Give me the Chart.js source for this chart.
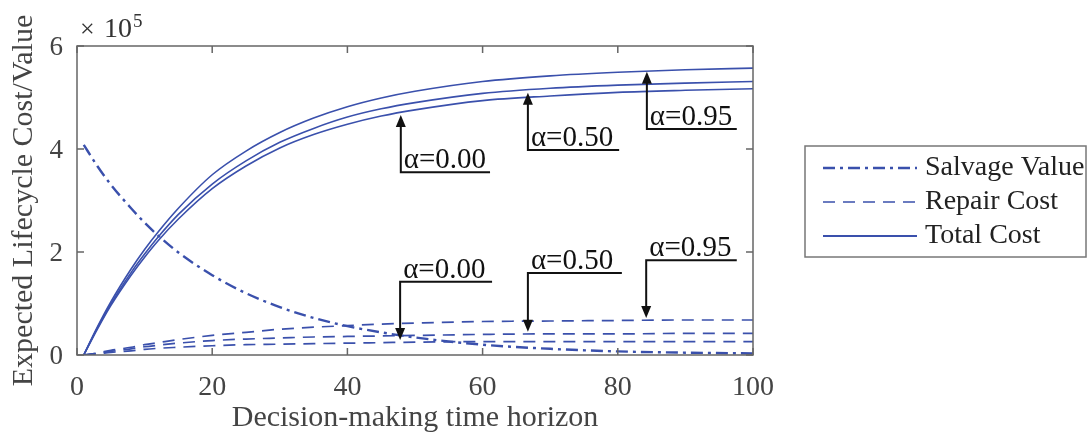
<!DOCTYPE html>
<html>
<head>
<meta charset="utf-8">
<script src="https://cdn.jsdelivr.net/npm/chart.js@4/dist/chart.umd.min.js"></script>
<style>
  html, body { margin: 0; padding: 0; background: #fff; }
  #wrap { width: 1088px; height: 440px; }
</style>
</head>
<body>
<div id="wrap"><canvas id="myChart" width="1088" height="440"></canvas></div>
<script>
// values in units of 10^5
const horizon = [1, 3, 5, 8, 10, 12, 15, 20, 25, 30, 35, 40, 45, 50, 60, 70, 80, 90, 100];
const salvageValue = [4.08, 3.67, 3.31, 2.85, 2.57, 2.32, 1.99, 1.55, 1.20, 0.93, 0.72, 0.56, 0.44, 0.34, 0.20, 0.12, 0.07, 0.045, 0.03];
const repair095 = [0, 0.04, 0.09, 0.15, 0.20, 0.24, 0.30, 0.38, 0.44, 0.50, 0.54, 0.57, 0.60, 0.62, 0.65, 0.66, 0.67, 0.68, 0.68];
const repair050 = [0, 0.03, 0.07, 0.12, 0.16, 0.19, 0.23, 0.28, 0.31, 0.33, 0.35, 0.36, 0.37, 0.38, 0.40, 0.41, 0.41, 0.42, 0.42];
const repair000 = [0, 0.02, 0.05, 0.08, 0.11, 0.13, 0.15, 0.18, 0.20, 0.21, 0.22, 0.23, 0.24, 0.25, 0.26, 0.26, 0.26, 0.26, 0.26];
const total095 = [0, 0.54, 1.03, 1.67, 2.05, 2.39, 2.85, 3.50, 3.96, 4.32, 4.60, 4.82, 4.99, 5.12, 5.31, 5.42, 5.49, 5.54, 5.57];
const total050 = [0, 0.52, 0.99, 1.60, 1.96, 2.29, 2.73, 3.32, 3.77, 4.13, 4.40, 4.62, 4.78, 4.90, 5.08, 5.18, 5.24, 5.28, 5.31];
const total000 = [0, 0.50, 0.96, 1.55, 1.90, 2.22, 2.64, 3.23, 3.67, 4.02, 4.28, 4.48, 4.64, 4.76, 4.94, 5.03, 5.10, 5.14, 5.17];

const xTicks = [0, 20, 40, 60, 80, 100];
const yTicks = [0, 2, 4, 6];
const legendLabels = ["Salvage Value", "Repair Cost", "Total Cost"];

// callouts: label, x of stem, arrow tip y, label line y, line end x (data units)
const calloutLabels = ["α=0.00", "α=0.50", "α=0.95", "α=0.00", "α=0.50", "α=0.95"];
const calloutX = [47.9, 66.7, 84.3, 47.8, 66.7, 84.2];
const calloutTip = [4.66, 5.09, 5.50, 0.29, 0.45, 0.72];
const calloutBase = [3.55, 3.98, 4.39, 1.42, 1.59, 1.84];
const calloutEnd = [61.1, 80.2, 97.6, 61.4, 80.6, 97.6];

const blue = "#3a50ac";
const serif = "'Liberation Serif', 'Times New Roman', serif";

function pts(arr) {
  return horizon.map((x, i) => ({ x: x, y: arr[i] }));
}

function line(label, arr, dash, width) {
  return {
    label: label,
    data: pts(arr),
    borderColor: blue,
    backgroundColor: blue,
    borderWidth: width,
    borderDash: dash,
    pointRadius: 0,
    cubicInterpolationMode: "monotone",
    fill: false,
  };
}

const salvageDash = [12, 5, 3, 5];
const repairDash = [12, 8];

const extras = {
  id: "extras",
  afterDraw(chart) {
    const ctx = chart.ctx;
    const a = chart.chartArea;
    const xs = chart.scales.x;
    const ys = chart.scales.y;
    ctx.save();

    // frame + inward ticks
    ctx.strokeStyle = "#666";
    ctx.lineWidth = 1.5;
    ctx.strokeRect(a.left, a.top, a.right - a.left, a.bottom - a.top);
    ctx.beginPath();
    xTicks.forEach((t) => {
      const px = xs.getPixelForValue(t);
      ctx.moveTo(px, a.bottom); ctx.lineTo(px, a.bottom - 7);
      ctx.moveTo(px, a.top); ctx.lineTo(px, a.top + 7);
    });
    yTicks.forEach((t) => {
      const py = ys.getPixelForValue(t);
      ctx.moveTo(a.left, py); ctx.lineTo(a.left + 7, py);
      ctx.moveTo(a.right, py); ctx.lineTo(a.right - 7, py);
    });
    ctx.stroke();

    // x 10^5 multiplier
    ctx.fillStyle = "#333";
    ctx.textBaseline = "alphabetic";
    ctx.textAlign = "left";
    ctx.font = "26px " + serif;
    ctx.fillText("×", a.left + 3, 37);
    ctx.font = "28px " + serif;
    ctx.fillText("10", a.left + 27, 37);
    ctx.font = "19px " + serif;
    ctx.fillText("5", a.left + 56, 27);

    // callouts
    ctx.strokeStyle = "#111";
    ctx.fillStyle = "#111";
    ctx.lineWidth = 2;
    calloutLabels.forEach((lab, i) => {
      const px = xs.getPixelForValue(calloutX[i]);
      const tip = ys.getPixelForValue(calloutTip[i]);
      const base = ys.getPixelForValue(calloutBase[i]);
      const end = xs.getPixelForValue(calloutEnd[i]);
      const dir = tip < base ? -1 : 1;
      ctx.beginPath();
      ctx.moveTo(end, base);
      ctx.lineTo(px, base);
      ctx.lineTo(px, tip - dir * 10);
      ctx.stroke();
      ctx.beginPath();
      ctx.moveTo(px, tip);
      ctx.lineTo(px - 5, tip - dir * 12);
      ctx.lineTo(px + 5, tip - dir * 12);
      ctx.closePath();
      ctx.fill();
      ctx.font = "29px " + serif;
      ctx.textAlign = "left";
      ctx.textBaseline = "alphabetic";
      ctx.fillText(lab, px + 3, base - 4);
    });

    // legend
    const lx = 805, ly = 146, lw = 281, lh = 111;
    ctx.fillStyle = "#fff";
    ctx.fillRect(lx, ly, lw, lh);
    ctx.strokeStyle = "#777";
    ctx.lineWidth = 1.5;
    ctx.strokeRect(lx, ly, lw, lh);
    const dashes = [salvageDash, repairDash, []];
    const widths = [2.4, 1.6, 1.8];
    legendLabels.forEach((lab, i) => {
      const yy = 168 + i * 34;
      ctx.strokeStyle = blue;
      ctx.lineWidth = widths[i];
      ctx.setLineDash(dashes[i]);
      ctx.beginPath();
      ctx.moveTo(823, yy);
      ctx.lineTo(917, yy);
      ctx.stroke();
      ctx.setLineDash([]);
      ctx.fillStyle = "#222";
      ctx.font = "28px " + serif;
      ctx.textBaseline = "middle";
      ctx.fillText(lab, 925, yy);
    });
    ctx.restore();
  },
};

const ctx = document.getElementById("myChart").getContext("2d");
const myChart = new Chart(ctx, {
  type: "line",
  data: {
    datasets: [
      line("Salvage Value", salvageValue, salvageDash, 2.4),
      line("Repair Cost α=0.00", repair000, repairDash, 1.7),
      line("Repair Cost α=0.50", repair050, repairDash, 1.7),
      line("Repair Cost α=0.95", repair095, repairDash, 1.7),
      line("Total Cost α=0.00", total000, [], 1.6),
      line("Total Cost α=0.50", total050, [], 1.6),
      line("Total Cost α=0.95", total095, [], 1.6),
    ],
  },
  options: {
    responsive: false,
    animation: false,
    layout: { padding: { left: 0, right: 335, top: 46, bottom: 0 } },
    plugins: { legend: { display: false }, tooltip: { enabled: false } },
    scales: {
      x: {
        type: "linear",
        min: 0,
        max: 100,
        afterFit(scale) { scale.height = 85; },
        afterBuildTicks(scale) { scale.ticks = xTicks.map((v) => ({ value: v })); },
        grid: { display: false, drawTicks: false },
        border: { display: false },
        ticks: { color: "#444", padding: 16, font: { family: serif, size: 28 } },
        title: {
          display: true,
          text: "Decision-making time horizon",
          color: "#444",
          font: { family: serif, size: 30 },
          padding: { top: 0, bottom: 4 },
        },
      },
      y: {
        min: 0,
        max: 6,
        afterFit(scale) { scale.width = 77; },
        afterBuildTicks(scale) { scale.ticks = yTicks.map((v) => ({ value: v })); },
        grid: { display: false, drawTicks: false },
        border: { display: false },
        ticks: { color: "#444", padding: 14, labelOffset: 2, font: { family: serif, size: 27 } },
        title: {
          display: true,
          text: "Expected Lifecycle Cost/Value",
          color: "#444",
          font: { family: serif, size: 30 },
          padding: { top: 6, bottom: 0 },
        },
      },
    },
  },
  plugins: [extras],
});
</script>
</body>
</html>
